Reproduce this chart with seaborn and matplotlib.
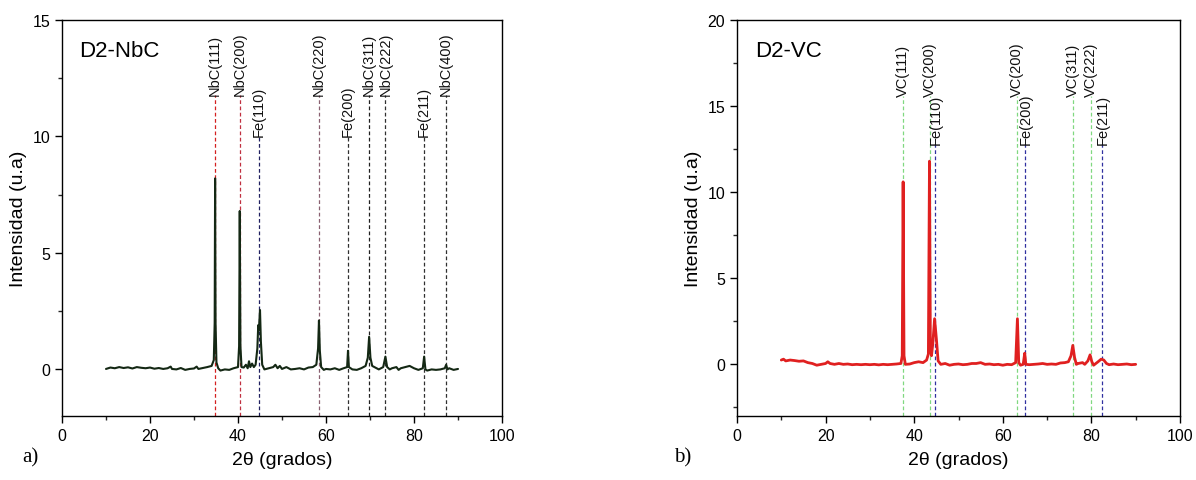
import pandas as pd
import matplotlib.pyplot as plt
import matplotlib.ticker as mticker
import seaborn as sns

# D2-NbC pattern (2theta, intensity)
nbc_x = [10.0, 11, 12, 13, 14, 15, 16, 17, 18, 19, 20, 21, 22, 23, 24, 24.7, 25, 26, 27, 28,
         29, 30, 30.6, 31, 32, 33, 34, 34.5, 34.7, 34.8, 34.9, 35.1, 35.5, 36, 37, 38, 39, 40,
         40.25, 40.4, 40.55, 40.8, 41.3, 41.8, 42.2, 42.5, 42.8, 43.2, 43.6, 44.0, 44.4, 44.6,
         44.75, 45.0, 45.2, 45.5, 46, 47, 48, 48.5, 49, 49.5, 50, 51, 52, 53, 54, 55, 56, 57,
         57.8, 58.2, 58.4, 58.6, 58.9, 59.5, 60, 61, 62, 63, 64, 64.8, 65.0, 65.2, 66, 67, 68,
         69, 69.5, 69.8, 70.1, 70.5, 71, 72, 73, 73.5, 73.9, 74.5, 75, 76, 76.5, 77, 78, 79, 80,
         81, 82, 82.3, 82.6, 83, 84, 85, 86, 87, 87.3, 87.6, 88, 89, 90]
nbc_y = [0.02, 0.08, 0.05, 0.1, 0.06, 0.09, 0.04, 0.1, 0.07, 0.05, 0.08, 0.03, 0.06, 0.02, 0.05,
         0.12, 0.02, 0.0, 0.06, -0.02, 0.02, 0.04, 0.12, 0.02, 0.06, 0.1, 0.15, 0.4, 2.0, 8.2,
         2.0, 0.3, 0.05, -0.05, 0.0, -0.02, 0.05, 0.1, 1.0, 6.8, 1.0, 0.1, 0.08, 0.2, 0.05, 0.35,
         0.1, 0.25, 0.1, 0.2, 0.9, 1.9, 1.7, 2.55, 1.2, 0.2, 0.0, 0.05, 0.1, 0.2, 0.05, 0.15,
         0.02, 0.1, 0.0, 0.02, 0.05, 0.0, 0.08, 0.1, 0.2, 0.9, 2.1, 0.8, 0.1, -0.02, 0.02, 0.0,
         0.05, -0.02, 0.05, 0.1, 0.8, 0.1, 0.0, -0.02, 0.05, 0.15, 0.5, 1.4, 0.5, 0.15, 0.1, 0.0,
         0.1, 0.55, 0.1, 0.0, 0.05, 0.1, -0.02, 0.05, 0.1, 0.15, 0.05, -0.02, 0.05, 0.55, 0.0,
         -0.05, 0.0, -0.02, 0.0, 0.05, 0.2, 0.0, 0.05, -0.02, 0.02]

# D2-VC pattern
vc_x = [10, 10.5, 11, 12, 13, 14, 15, 16, 17, 18, 19, 20, 20.5, 21, 22, 23, 24, 25, 26, 27, 28,
        29, 30, 31, 32, 33, 34, 35, 36, 37, 37.3, 37.5, 37.7, 38, 39, 40, 41, 42, 42.8, 43.2,
        43.45, 43.65, 43.9, 44.2, 44.6, 45.0, 45.4, 46, 47, 48, 49, 50, 51, 52, 53, 54, 55, 56,
        57, 58, 59, 60, 61, 62, 62.9, 63.3, 63.6, 64.0, 64.6, 64.95, 65.2, 66, 67, 68, 69, 70,
        71, 72, 73, 74, 74.8, 75.4, 75.8, 76.2, 76.6, 77, 78, 78.5, 79.2, 79.7, 80.1, 80.5, 81,
        81.5, 82.2, 82.8, 83.4, 84, 85, 86, 87, 88, 89, 90]
vc_y = [0.25, 0.3, 0.2, 0.25, 0.22, 0.18, 0.2, 0.1, 0.05, -0.05, 0.0, 0.05, 0.15, 0.05, 0.0,
        0.05, 0.0, 0.02, -0.02, 0.0, -0.02, 0.0, -0.02, 0.0, -0.03, 0.0, -0.02, 0.0, 0.02, 0.05,
        0.5, 10.6, 0.5, 0.0, 0.02, 0.1, 0.15, 0.1, 0.25, 0.6, 11.8, 1.0, 0.5, 1.2, 2.65, 1.5,
        0.2, 0.0, 0.05, -0.05, 0.0, 0.02, -0.02, 0.0, 0.05, 0.05, 0.1, 0.0, 0.02, -0.02, 0.0,
        -0.05, 0.0, -0.02, 0.1, 2.65, 0.1, -0.05, 0.0, 0.65, 0.0, -0.02, 0.0, 0.02, 0.05, 0.0,
        0.02, 0.0, 0.08, 0.1, 0.15, 0.5, 1.1, 0.4, 0.0, 0.05, 0.1, 0.0, 0.2, 0.55, 0.15, -0.05,
        0.05, 0.15, 0.3, 0.25, 0.05, -0.02, 0.02, -0.02, 0.0, 0.02, -0.02, 0.0]

# peak markers: position, label, height of label base, line colour
nbc_pos = [34.8, 40.4, 44.8, 58.4, 65.0, 69.8, 73.5, 82.3, 87.3]
nbc_lab = ['NbC(111)', 'NbC(200)', 'Fe(110)', 'NbC(220)', 'Fe(200)', 'NbC(311)',
           'NbC(222)', 'Fe(211)', 'NbC(400)']
nbc_top = [11.8, 11.8, 10.0, 11.8, 10.0, 11.8, 11.8, 10.0, 11.8]
nbc_col = ['#d42020', '#c03040', '#202060', '#8a6070', '#303030', '#202020', '#303030',
           '#303030', '#303030']

vc_pos = [37.5, 43.5, 44.8, 63.3, 65.1, 75.8, 79.8, 82.5]
vc_lab = ['VC(111)', 'VC(200)', 'Fe(110)', 'VC(200)', 'Fe(200)', 'VC(311)', 'VC(222)', 'Fe(211)']
vc_top = [15.6, 15.6, 12.8, 15.6, 12.8, 15.6, 15.6, 12.8]
vc_col = ['#80d880', '#80d880', '#3030a0', '#80d880', '#3030a0', '#80d880', '#80d880', '#3030a0']

sns.set_theme(style='ticks')
plt.rcParams['font.family'] = ['Liberation Sans', 'DejaVu Sans']
plt.rcParams['axes.edgecolor'] = 'black'
plt.rcParams['axes.linewidth'] = 1.0
plt.rcParams['text.color'] = 'black'
plt.rcParams['axes.labelcolor'] = 'black'

fig = plt.figure(figsize=(11.96, 4.81), dpi=100)
ax1 = fig.add_axes([62 / 1196, 64 / 481, 440 / 1196, 396 / 481])
ax2 = fig.add_axes([737 / 1196, 64 / 481, 443 / 1196, 396 / 481])


def draw(ax, x, y, color, lw, pos, lab, top, col, ymin, ymax, title, tag, tagx):
    df = pd.DataFrame({'x': x, 'y': y})
    for p, l, t, c in zip(pos, lab, top, col):
        ax.plot([p, p], [ymin, t], ls=(0, (3, 2)), lw=0.9, color=c, zorder=1)
        ax.text(p, t, l, rotation=90, ha='center', va='bottom', fontsize=10.5,
                color='#111111')
    sns.lineplot(data=df, x='x', y='y', ax=ax, color=color, lw=lw, zorder=3)
    ax.set_xlim(0, 100)
    ax.set_ylim(ymin, ymax)
    ax.xaxis.set_major_locator(mticker.MultipleLocator(20))
    ax.xaxis.set_minor_locator(mticker.MultipleLocator(10))
    ax.yaxis.set_major_locator(mticker.MultipleLocator(5))
    ax.yaxis.set_minor_locator(mticker.MultipleLocator(2.5))
    ax.tick_params(which='major', direction='out', length=5, width=1, labelsize=11.5,
                   colors='black', top=False, right=False)
    ax.tick_params(which='minor', direction='out', length=3, width=1, top=False, right=False)
    ax.set_xlabel('2θ (grados)', fontsize=14, labelpad=6)
    ax.set_ylabel('Intensidad (u.a)', fontsize=14, labelpad=4)
    ax.text(0.04, 0.95, title, transform=ax.transAxes, fontsize=16, ha='left', va='top')
    fig.text(tagx, 0.028, tag, fontsize=15, family='Liberation Serif', ha='left', va='bottom')


draw(ax1, nbc_x, nbc_y, '#142814', 1.5, nbc_pos, nbc_lab, nbc_top, nbc_col,
     -2, 15, 'D2-NbC', 'a)', 22 / 1196)
draw(ax2, vc_x, vc_y, '#e02020', 2.0, vc_pos, vc_lab, vc_top, vc_col,
     -3, 20, 'D2-VC', 'b)', 674 / 1196)

fig.savefig('out.png', dpi=100)
